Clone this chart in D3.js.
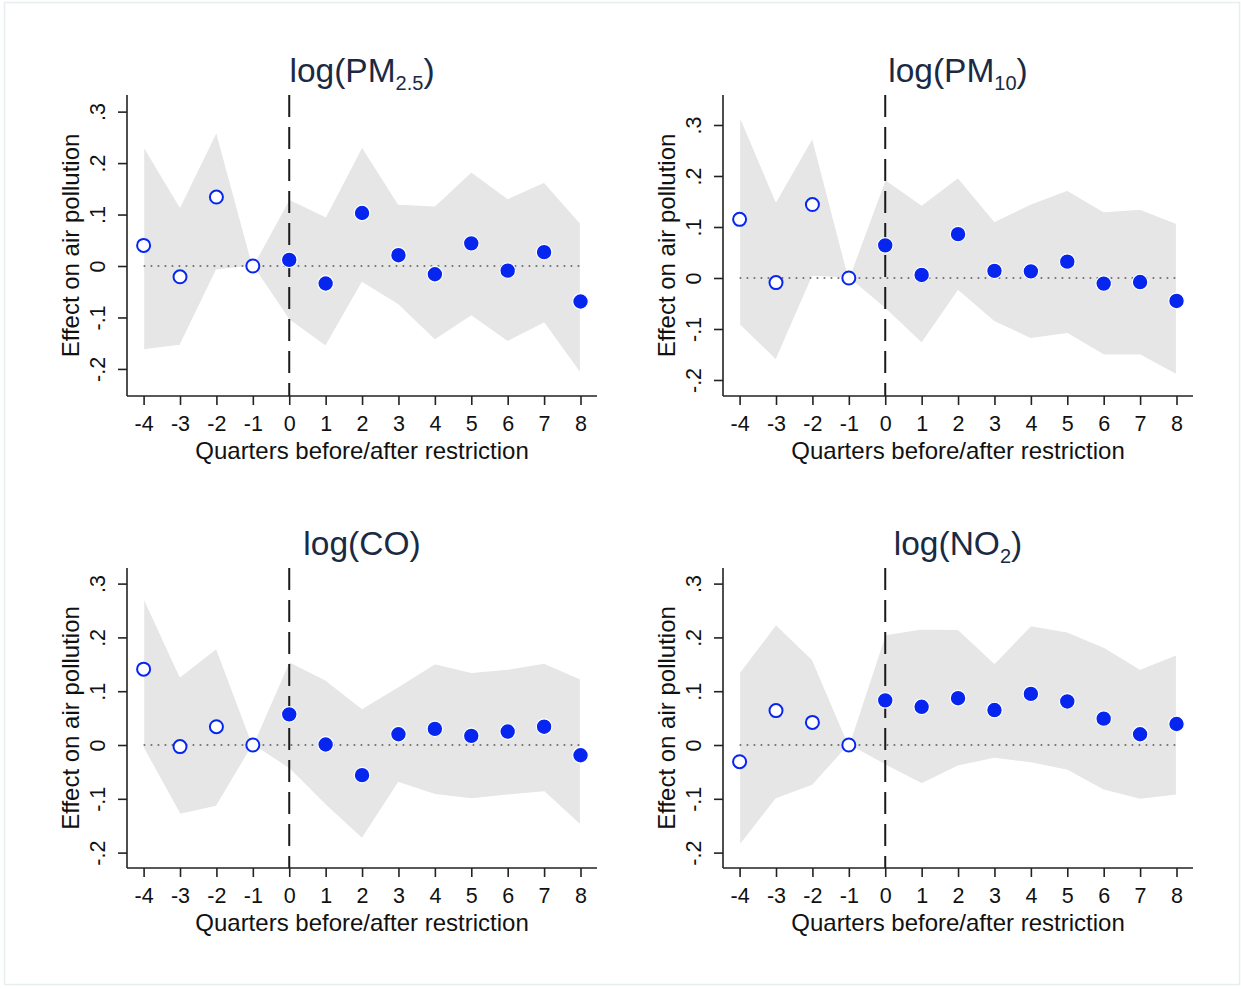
<!DOCTYPE html>
<html>
<head>
<meta charset="utf-8">
<script src="https://cdn.jsdelivr.net/npm/d3@7"></script>
<style>
  html, body { margin: 0; padding: 0; background: #fff; }
  svg { display: block; }
  text { font-family: "Liberation Sans", Arial, Helvetica, sans-serif; }
</style>
</head>
<body>
<svg id="chart" width="1241" height="989"></svg>
<script>
// ---------------- data ----------------
const quarters = [-4, -3, -2, -1, 0, 1, 2, 3, 4, 5, 6, 7, 8];
const yTickValues = [-0.2, -0.1, 0, 0.1, 0.2, 0.3];
const yTickLabels = ["-.2", "-.1", "0", ".1", ".2", ".3"];
const xTitle = "Quarters before/after restriction";
const yTitle = "Effect on air pollution";

const pm25Est = [0.040, -0.021, 0.134, 0, 0.012, -0.034, 0.103, 0.021, -0.016, 0.044, -0.009, 0.027, -0.069];
const pm25Hi  = [0.233, 0.115, 0.261, 0, 0.130, 0.096, 0.232, 0.120, 0.117, 0.183, 0.131, 0.163, 0.083];
const pm25Lo  = [-0.163, -0.154, -0.008, 0, -0.105, -0.156, -0.032, -0.076, -0.144, -0.097, -0.147, -0.111, -0.209];

const pm10Est = [0.115, -0.009, 0.144, 0, 0.064, 0.006, 0.086, 0.014, 0.013, 0.032, -0.011, -0.008, -0.045];
const pm10Hi  = [0.318, 0.150, 0.275, 0, 0.193, 0.143, 0.197, 0.111, 0.145, 0.172, 0.130, 0.135, 0.107];
const pm10Lo  = [-0.092, -0.161, 0.003, 0, -0.060, -0.128, -0.025, -0.086, -0.119, -0.109, -0.151, -0.151, -0.190];

const coEst = [0.141, -0.003, 0.034, 0, 0.057, 0.001, -0.056, 0.020, 0.030, 0.017, 0.025, 0.034, -0.019];
const coHi  = [0.274, 0.127, 0.180, 0, 0.155, 0.121, 0.068, 0.109, 0.151, 0.135, 0.141, 0.152, 0.123];
const coLo  = [-0.006, -0.129, -0.114, 0, -0.044, -0.112, -0.174, -0.070, -0.092, -0.100, -0.093, -0.087, -0.149];

const no2Est = [-0.031, 0.064, 0.042, 0, 0.083, 0.071, 0.087, 0.065, 0.095, 0.081, 0.049, 0.020, 0.039];
const no2Hi  = [0.135, 0.224, 0.159, 0, 0.205, 0.216, 0.215, 0.152, 0.222, 0.210, 0.182, 0.141, 0.168];
const no2Lo  = [-0.187, -0.100, -0.075, 0, -0.037, -0.072, -0.039, -0.025, -0.033, -0.047, -0.084, -0.101, -0.093];

// ---------------- layout ----------------
const panels = [
  { main: "log(PM", sub: "2.5", est: pm25Est, lo: pm25Lo, hi: pm25Hi,
    left: 127, right: 597, top: 95, bottom: 396, yDom: [-0.2526, 0.3323] },
  { main: "log(PM", sub: "10", est: pm10Est, lo: pm10Lo, hi: pm10Hi,
    left: 723, right: 1193, top: 95, bottom: 396, yDom: [-0.2314, 0.3588] },
  { main: "log(CO)", sub: null, est: coEst, lo: coLo, hi: coHi,
    left: 127, right: 597, top: 568, bottom: 868, yDom: [-0.2286, 0.329] },
  { main: "log(NO", sub: "2", est: no2Est, lo: no2Lo, hi: no2Hi,
    left: 723, right: 1193, top: 568, bottom: 868, yDom: [-0.2286, 0.329] }
];

const BLUE = "#0626f0";
const AXIS = "#222";
const TITLE_COLOR = "#1b2a44";

const svg = d3.select("#chart");

// faint outer frame
svg.append("rect")
  .attr("x", 4.5).attr("y", 2.5).attr("width", 1235).attr("height", 982)
  .attr("fill", "none").attr("stroke", "#e6eef0").attr("stroke-width", 1.5);

panels.forEach(p => {
  const x = d3.scaleLinear().domain([-4.456, 8.453]).range([p.left, p.right]);
  const y = d3.scaleLinear().domain(p.yDom).range([p.bottom, p.top]);
  const g = svg.append("g");
  const rows = quarters.map((q, i) => ({ q, est: p.est[i], lo: p.lo[i], hi: p.hi[i] }));

  // confidence band
  const area = d3.area().x(d => x(d.q)).y0(d => y(d.lo)).y1(d => y(d.hi));
  g.append("path").datum(rows).attr("d", area)
    .attr("fill", "#e6e6e6").attr("stroke", "#ffffff").attr("stroke-width", 1.2)
    .attr("stroke-linejoin", "round");

  // zero dotted line
  g.append("line")
    .attr("x1", x(quarters[0])).attr("x2", x(quarters[quarters.length - 1]))
    .attr("y1", y(0)).attr("y2", y(0))
    .attr("stroke", "#555").attr("stroke-width", 1.7)
    .attr("stroke-dasharray", "1.7,5.3");

  // vertical dashed line at 0
  g.append("line")
    .attr("x1", x(0)).attr("x2", x(0))
    .attr("y1", p.top).attr("y2", p.bottom)
    .attr("stroke", "#1a1a1a").attr("stroke-width", 2)
    .attr("stroke-dasharray", "22,10");

  // axes
  const xAxis = d3.axisBottom(x).tickValues(quarters).tickSize(9).tickSizeOuter(0).tickPadding(4)
    .tickFormat(d => String(d));
  const gx = g.append("g").attr("transform", `translate(0,${p.bottom})`).call(xAxis);
  gx.select(".domain").attr("stroke", AXIS).attr("stroke-width", 1.6)
    .attr("d", `M${p.left},0H${p.right}`);
  gx.selectAll(".tick line").attr("stroke", AXIS).attr("stroke-width", 1.6);
  gx.selectAll(".tick text").attr("fill", "#111").attr("font-size", 21.5)
    .attr("dy", 0).attr("y", 35).attr("font-family", "Liberation Sans, Arial, sans-serif");

  const yAxis = d3.axisLeft(y).tickValues(yTickValues).tickSize(9).tickSizeOuter(0)
    .tickFormat((d, i) => yTickLabels[i]);
  const gy = g.append("g").attr("transform", `translate(${p.left},0)`).call(yAxis);
  gy.select(".domain").attr("stroke", AXIS).attr("stroke-width", 1.6)
    .attr("d", `M0,${p.top}V${p.bottom}`);
  gy.selectAll(".tick line").attr("stroke", AXIS).attr("stroke-width", 1.6);
  gy.selectAll(".tick text").attr("fill", "#111").attr("font-size", 21.5)
    .attr("transform", "rotate(-90)").attr("x", 0).attr("y", -22).attr("dy", 0)
    .attr("text-anchor", "middle").attr("font-family", "Liberation Sans, Arial, sans-serif");

  // axis titles
  g.append("text")
    .attr("x", (p.left + p.right) / 2).attr("y", p.bottom + 63)
    .attr("text-anchor", "middle").attr("font-size", 24).attr("fill", "#111")
    .text(xTitle);
  g.append("text")
    .attr("transform", `translate(${p.left - 48},${(p.top + p.bottom) / 2}) rotate(-90)`)
    .attr("text-anchor", "middle").attr("font-size", 24).attr("fill", "#111")
    .text(yTitle);

  // panel title
  const t = g.append("text")
    .attr("x", (p.left + p.right) / 2).attr("y", p.top - 13)
    .attr("text-anchor", "middle").attr("font-size", 33.5).attr("fill", TITLE_COLOR);
  t.append("tspan").text(p.main);
  if (p.sub) {
    t.append("tspan").attr("font-size", 20).attr("dy", 8).text(p.sub);
    t.append("tspan").attr("dy", -8).text(")");
  }

  // points
  g.selectAll("circle.pt").data(rows).join("circle")
    .attr("class", "pt")
    .attr("cx", d => x(d.q)).attr("cy", d => y(d.est))
    .attr("r", d => d.q < 0 ? 6.5 : 7.8)
    .attr("fill", d => d.q < 0 ? "#ffffff" : BLUE)
    .attr("stroke", d => d.q < 0 ? BLUE : "#ffffff")
    .attr("stroke-width", d => d.q < 0 ? 2 : 1.2);
});
</script>
</body>
</html>
